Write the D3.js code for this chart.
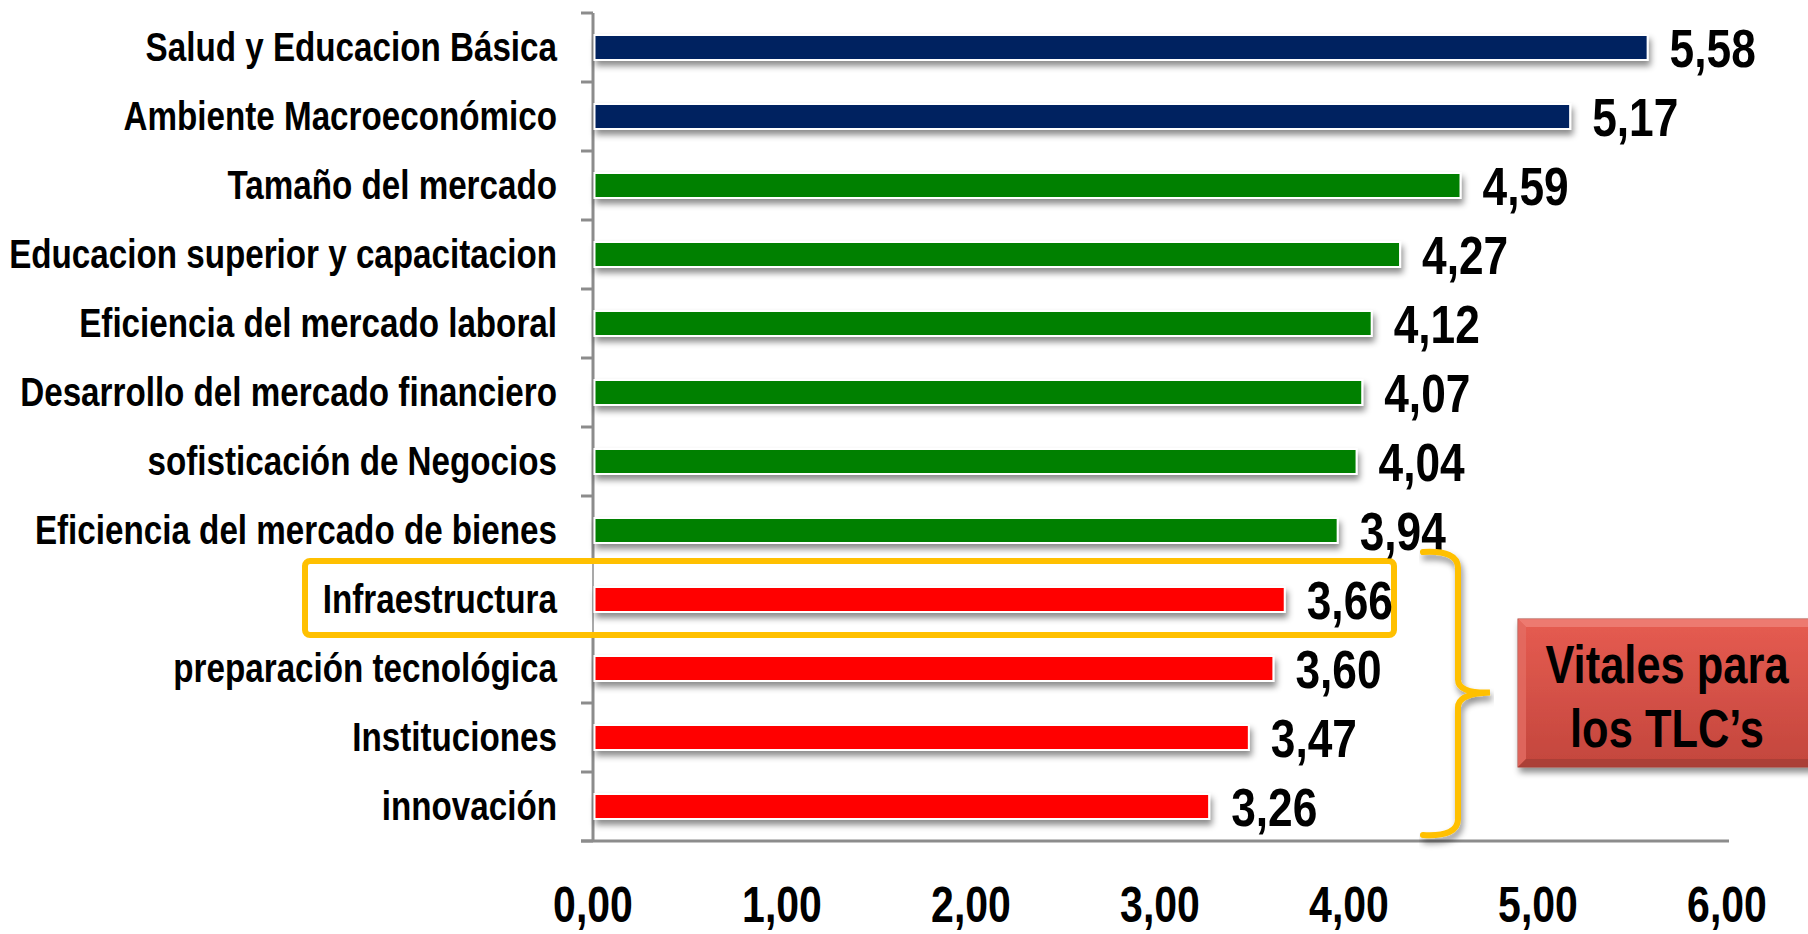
<!DOCTYPE html>
<html>
<head>
<meta charset="utf-8">
<script src="https://cdn.jsdelivr.net/npm/d3@7"></script>
<style>
  body { margin: 0; background: #fff; }
  svg { display: block; }
  .lbl { font-family: "Liberation Sans", Arial, sans-serif; font-weight: bold; fill: #000; }
</style>
</head>
<body>
<div id="chart"></div>
<script>
// indices del informe, de mayor a menor
var categories = [
  "Salud y Educacion Básica",
  "Ambiente Macroeconómico",
  "Tamaño del mercado",
  "Educacion superior y capacitacion",
  "Eficiencia del mercado laboral",
  "Desarrollo del mercado financiero",
  "sofisticación de Negocios",
  "Eficiencia del mercado de bienes",
  "Infraestructura",
  "preparación tecnológica",
  "Instituciones",
  "innovación"
];
var values = [5.58, 5.17, 4.59, 4.27, 4.12, 4.07, 4.04, 3.94, 3.66, 3.60, 3.47, 3.26];
var tiers = ["alto", "alto", "medio", "medio", "medio", "medio", "medio", "medio", "bajo", "bajo", "bajo", "bajo"];
var xTicks = [0, 1, 2, 3, 4, 5, 6];
var highlighted = "Infraestructura";
var calloutLines = ["Vitales para", "los TLC\u2019s"];

var width = 1808, height = 934;
var vis = {};
var NARROW = 0.82; // no Arial Narrow here, so squeeze Liberation Sans

vis.svg = d3.select("#chart").append("svg")
    .attr("width", width)
    .attr("height", height);

var defs = vis.svg.append("defs");
var shadow = defs.append("filter").attr("id", "barShadow")
    .attr("x", "-5%").attr("y", "-50%").attr("width", "110%").attr("height", "250%");
shadow.append("feDropShadow")
    .attr("dx", 2).attr("dy", 5).attr("stdDeviation", 3)
    .attr("flood-color", "#000").attr("flood-opacity", 0.45);

var boxGrad = defs.append("linearGradient").attr("id", "boxGrad")
    .attr("x1", 0).attr("y1", 0).attr("x2", 0).attr("y2", 1);
boxGrad.append("stop").attr("offset", "0%").attr("stop-color", "#e65c51");
boxGrad.append("stop").attr("offset", "100%").attr("stop-color", "#c3463d");

// scales
var x = d3.scaleLinear().domain([0, 6]).range([593, 1727]);
var y = d3.scaleBand().domain(categories).range([13, 841]).padding(0);
var color = d3.scaleOrdinal()
    .domain(["alto", "medio", "bajo"])
    .range(["#002060", "#008000", "#ff0000"]);

var fmt = function(v) { return d3.format(".2f")(v).replace(".", ","); };
var barH = 25;

function place(px, py, sx) {
    return "translate(" + px + "," + py + ") scale(" + (sx || NARROW) + ",1)";
}

// y axis
var yAxis = d3.axisLeft(y).tickSize(0).tickFormat("");
vis.svg.append("g")
    .attr("transform", "translate(" + x(0) + ",0)")
    .call(yAxis)
    .call(function(g) { g.select(".domain").remove(); });

var axisCol = "#8c8c8c";
vis.svg.append("line")
    .attr("x1", x(0)).attr("x2", x(0))
    .attr("y1", y.range()[0]).attr("y2", y.range()[1])
    .attr("stroke", axisCol).attr("stroke-width", 3);

var bounds = d3.range(categories.length + 1).map(function(i) { return y.range()[0] + i * y.step(); });
vis.svg.selectAll(".ytick")
    .data(bounds)
    .enter().append("line")
    .attr("class", "ytick")
    .attr("x1", x(0) - 12).attr("x2", x(0))
    .attr("y1", function(d) { return d; })
    .attr("y2", function(d) { return d; })
    .attr("stroke", axisCol).attr("stroke-width", 3);

vis.svg.append("line")
    .attr("x1", x(0) - 12).attr("x2", x(6) + 2)
    .attr("y1", y.range()[1]).attr("y2", y.range()[1])
    .attr("stroke", axisCol).attr("stroke-width", 3);

// x tick labels
vis.svg.selectAll(".xlab")
    .data(xTicks)
    .enter().append("text")
    .attr("class", "lbl xlab")
    .attr("text-anchor", "middle")
    .style("font-size", "50px")
    .attr("transform", function(d) { return place(x(d), 922); })
    .text(fmt);

// gold box around highlighted row
var hy = y(highlighted);
vis.svg.append("rect")
    .attr("x", 305).attr("y", hy - 4)
    .attr("width", 1089).attr("height", 74)
    .attr("rx", 5)
    .attr("fill", "#fff")
    .attr("stroke", "#ffc000").attr("stroke-width", 6);

// redraw axis part hidden by box fill
vis.svg.append("line")
    .attr("x1", x(0)).attr("x2", x(0))
    .attr("y1", hy - 1).attr("y2", hy + 67)
    .attr("stroke", axisCol).attr("stroke-width", 1.5);

// bars
vis.svg.selectAll(".bar")
    .data(values)
    .enter().append("rect")
    .attr("class", "bar")
    .attr("x", x(0) + 1.5)
    .attr("y", function(d, i) { return y(categories[i]) + (y.bandwidth() - barH) / 2; })
    .attr("width", function(d) { return x(d) - x(0) - 1.5; })
    .attr("height", barH)
    .attr("fill", function(d, i) { return color(tiers[i]); })
    .attr("stroke", "#fff").attr("stroke-width", 2)
    .attr("filter", "url(#barShadow)");

// category labels
vis.svg.selectAll(".clab")
    .data(categories)
    .enter().append("text")
    .attr("class", "lbl clab")
    .attr("text-anchor", "end")
    .style("font-size", "40px")
    .attr("transform", function(d) { return place(557, y(d) + y.bandwidth() / 2 + 13, 0.83); })
    .text(function(d) { return d; });

// value labels
vis.svg.selectAll(".vlab")
    .data(values)
    .enter().append("text")
    .attr("class", "lbl vlab")
    .style("font-size", "54px")
    .attr("transform", function(d, i) {
        return place(x(d) + 22, y(categories[i]) + y.bandwidth() / 2 + 19);
    })
    .text(fmt);

// brace
var bTop = y(highlighted) - 13, bBot = y.range()[1] - 6;
var bMid = (bTop + bBot) / 2;
vis.svg.append("path")
    .attr("d", "M1423," + bTop +
        " Q1458," + (bTop - 2) + " 1458," + (bTop + 16) +
        " L1458," + (bMid - 14) +
        " Q1458," + bMid + " 1490," + (bMid - 1) +
        " Q1458," + bMid + " 1458," + (bMid + 14) +
        " L1458," + (bBot - 16) +
        " Q1458," + (bBot + 2) + " 1423," + bBot)
    .attr("fill", "none")
    .attr("stroke", "#ffc000").attr("stroke-width", 6)
    .attr("stroke-linecap", "round")
    .attr("filter", "url(#barShadow)");

// callout box
var bx = 1518, by = 619, bw = 300, bh = 148, bv = 8;
var callout = vis.svg.append("g");
callout.append("rect")
    .attr("x", bx).attr("y", by).attr("width", bw).attr("height", bh)
    .attr("fill", "url(#boxGrad)")
    .attr("stroke", "#a8403a").attr("stroke-width", 1)
    .attr("filter", "url(#barShadow)");
callout.append("path")
    .attr("d", "M" + bx + "," + by + " L" + (bx + bw) + "," + by + " L" + (bx + bw - bv) + "," + (by + bv) + " L" + (bx + bv) + "," + (by + bv) + "Z")
    .attr("fill", "#ef8278").attr("opacity", 0.8);
callout.append("path")
    .attr("d", "M" + bx + "," + by + " L" + (bx + bv) + "," + (by + bv) + " L" + (bx + bv) + "," + (by + bh - bv) + " L" + bx + "," + (by + bh) + "Z")
    .attr("fill", "#e46d63").attr("opacity", 0.8);
callout.append("path")
    .attr("d", "M" + bx + "," + (by + bh) + " L" + (bx + bv) + "," + (by + bh - bv) + " L" + (bx + bw - bv) + "," + (by + bh - bv) + " L" + (bx + bw) + "," + (by + bh) + "Z")
    .attr("fill", "#a53d36").attr("opacity", 0.8);

callout.selectAll(".callt")
    .data(calloutLines)
    .enter().append("text")
    .attr("class", "lbl callt")
    .attr("text-anchor", "middle")
    .style("font-size", "53px")
    .attr("transform", function(d, i) { return place(1667, 683 + i * 64); })
    .text(function(d) { return d; });
</script>
</body>
</html>
